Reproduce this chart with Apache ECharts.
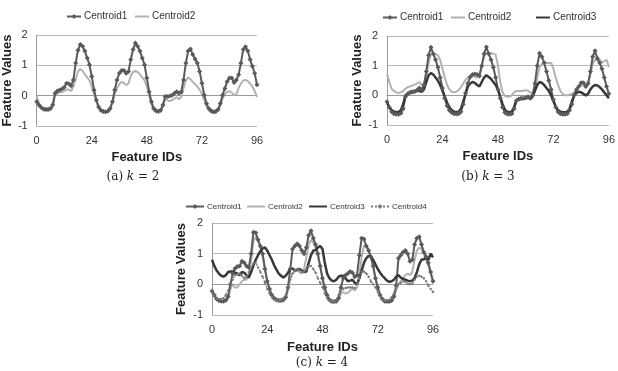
<!DOCTYPE html>
<html><head><meta charset="utf-8">
<script src="https://cdn.jsdelivr.net/npm/echarts@6/dist/echarts.min.js"></script>
<style>html,body{margin:0;padding:0;background:#fff}#c{width:618px;height:371px}</style>
</head><body><div id="c"></div>
<script>
// Feature IDs 0..96, tick labels
var xTicks = [0, 24, 48, 72, 96];
var yTicks = [-1, 0, 1, 2];
var names = ['Centroid1', 'Centroid2', 'Centroid3', 'Centroid4'];

// (a) k = 2
var a_c1 = [-0.2,-0.31,-0.39,-0.44,-0.45,-0.45,-0.42,-0.3,0.08,0.15,
 0.19,0.22,0.28,0.41,0.39,0.33,0.52,1.08,1.5,1.69,
 1.63,1.47,1.24,1.02,0.63,0.19,-0.14,-0.37,-0.48,-0.52,
 -0.53,-0.51,-0.42,-0.2,0.19,0.52,0.74,0.83,0.83,0.74,
 0.8,1.19,1.52,1.74,1.63,1.47,1.24,1.02,0.58,0.13,
 -0.2,-0.42,-0.5,-0.51,-0.48,-0.31,-0.03,-0.03,-0.01,0.01,
 0.08,0.13,0.08,0.13,0.52,1.08,1.47,1.54,1.36,1.21,
 1.08,0.8,0.41,0.02,-0.26,-0.42,-0.5,-0.53,-0.52,-0.46,
 -0.26,0.02,0.24,0.47,0.58,0.58,0.43,0.52,0.69,1.08,
 1.52,1.61,1.47,1.19,0.97,0.74,0.36];
var a_c2 = [-0.02,-0.25,-0.4,-0.48,-0.5,-0.5,-0.47,-0.38,0.0,0.08,
 0.1,0.12,0.15,0.2,0.2,0.15,0.3,0.55,0.8,0.88,
 0.82,0.7,0.6,0.5,0.3,0.05,-0.2,-0.4,-0.5,-0.55,
 -0.56,-0.54,-0.45,-0.25,0.05,0.25,0.38,0.45,0.42,0.35,
 0.4,0.65,0.78,0.82,0.78,0.7,0.6,0.5,0.3,0.0,
 -0.3,-0.48,-0.55,-0.56,-0.53,-0.38,-0.1,-0.15,-0.18,-0.15,
 -0.1,-0.05,-0.12,-0.05,0.25,0.5,0.6,0.55,0.45,0.38,
 0.3,0.2,0.05,-0.15,-0.35,-0.48,-0.55,-0.57,-0.56,-0.5,
 -0.35,-0.1,0.05,0.12,0.15,0.1,0.02,0.05,0.25,0.4,
 0.5,0.52,0.48,0.4,0.3,0.15,-0.05];

// (b) k = 3
var b_c1 = [-0.22,-0.4,-0.55,-0.62,-0.64,-0.64,-0.6,-0.45,-0.05,0.05,
 0.1,0.12,0.13,0.18,0.25,0.2,0.35,0.8,1.35,1.62,
 1.4,1.2,0.95,0.6,0.25,-0.1,-0.35,-0.5,-0.58,-0.62,
 -0.63,-0.62,-0.55,-0.3,0.08,0.4,0.62,0.7,0.72,0.7,
 0.65,1.0,1.4,1.63,1.4,1.2,0.95,0.6,0.2,-0.1,
 -0.4,-0.58,-0.63,-0.64,-0.62,-0.45,-0.18,-0.12,-0.1,-0.1,
 -0.08,-0.05,-0.1,0.0,0.4,1.0,1.42,1.3,1.1,0.8,
 0.5,0.2,-0.15,-0.4,-0.55,-0.62,-0.64,-0.64,-0.62,-0.5,
 -0.3,0.0,0.2,0.3,0.42,0.42,0.3,0.4,0.8,1.3,
 1.5,1.25,1.1,0.9,0.6,0.3,0.05];
var b_c2 = [0.72,0.45,0.22,0.15,0.1,0.08,0.1,0.15,0.22,0.28,
 0.3,0.33,0.36,0.4,0.45,0.35,0.4,0.7,1.1,1.38,
 1.4,1.38,1.35,1.2,0.9,0.6,0.35,0.2,0.12,0.1,
 0.12,0.18,0.28,0.4,0.52,0.6,0.62,0.65,0.62,0.6,
 0.7,1.0,1.3,1.42,1.42,1.42,1.4,1.38,1.0,0.45,
 0.1,-0.02,-0.05,-0.05,0.0,0.1,0.15,0.15,0.15,0.15,
 0.18,0.15,0.1,0.05,0.2,0.6,0.95,1.05,1.1,1.1,
 1.08,1.1,0.9,0.6,0.35,0.15,0.05,0.0,0.0,0.02,
 0.05,0.1,0.2,0.3,0.33,0.35,0.32,0.38,0.7,1.05,
 1.2,1.18,1.2,1.1,1.15,1.2,0.95];
var b_c3 = [-0.25,-0.4,-0.5,-0.55,-0.56,-0.56,-0.5,-0.3,0.0,0.05,
 0.08,0.1,0.12,0.15,0.15,0.12,0.2,0.45,0.68,0.75,
 0.7,0.6,0.5,0.35,0.15,-0.05,-0.25,-0.4,-0.5,-0.55,
 -0.56,-0.55,-0.45,-0.2,0.05,0.3,0.4,0.45,0.42,0.35,
 0.3,0.45,0.6,0.68,0.62,0.55,0.45,0.35,0.2,-0.05,
 -0.3,-0.48,-0.55,-0.57,-0.55,-0.4,-0.15,-0.15,-0.12,-0.12,
 -0.1,-0.08,-0.12,-0.05,0.15,0.35,0.45,0.42,0.35,0.25,
 0.15,0.0,-0.2,-0.38,-0.5,-0.55,-0.57,-0.57,-0.55,-0.45,
 -0.2,0.0,0.08,0.12,0.1,0.05,0.0,0.05,0.2,0.3,
 0.35,0.33,0.28,0.2,0.1,0.0,-0.1];

// (c) k = 4
var c_c1 = [-0.22,-0.35,-0.48,-0.53,-0.55,-0.55,-0.52,-0.4,0.0,0.35,
 0.52,0.58,0.6,0.75,0.7,0.6,0.55,1.0,1.7,1.68,
 1.45,1.25,1.0,0.5,0.1,-0.15,-0.35,-0.45,-0.5,-0.52,
 -0.52,-0.5,-0.42,-0.1,0.5,1.15,1.25,1.32,1.25,1.1,
 1.0,1.2,1.6,1.75,1.5,1.3,1.0,0.6,0.2,-0.1,
 -0.35,-0.5,-0.55,-0.56,-0.55,-0.45,-0.1,0.2,0.3,0.35,
 0.42,0.38,0.25,0.3,0.95,1.5,1.48,1.25,1.1,0.9,
 0.6,0.2,-0.1,-0.35,-0.48,-0.55,-0.56,-0.56,-0.53,-0.4,
 -0.05,0.85,0.95,1.05,1.1,1.0,0.75,0.8,1.3,1.5,
 1.55,1.3,1.05,0.9,0.7,0.4,0.1];
var c_c2 = [-0.25,-0.4,-0.5,-0.55,-0.57,-0.57,-0.55,-0.45,-0.15,0.0,
 -0.1,-0.1,0.0,0.1,0.15,0.15,0.3,0.8,1.4,1.55,
 1.45,1.2,0.9,0.5,0.1,-0.2,-0.4,-0.5,-0.55,-0.57,
 -0.57,-0.55,-0.45,-0.2,0.2,0.35,0.42,0.45,0.4,0.35,
 0.5,0.9,1.3,1.45,1.35,1.2,0.9,0.55,0.15,-0.2,
 -0.4,-0.55,-0.6,-0.6,-0.58,-0.5,-0.3,-0.25,-0.3,-0.28,
 -0.2,-0.15,-0.2,-0.1,0.3,0.9,1.25,1.25,1.15,0.9,
 0.6,0.2,-0.1,-0.35,-0.5,-0.57,-0.58,-0.58,-0.55,-0.45,
 -0.2,0.0,0.1,0.2,0.3,0.35,0.3,0.4,0.8,1.1,
 1.2,1.15,1.0,0.8,0.6,0.35,0.05];
var c_c3 = [0.8,0.6,0.45,0.35,0.28,0.25,0.3,0.4,0.42,0.42,
 0.38,0.35,0.3,0.4,0.38,0.3,0.22,0.4,0.62,0.8,
 0.95,1.08,1.17,1.2,1.1,0.95,0.8,0.62,0.48,0.35,
 0.28,0.22,0.28,0.38,0.5,0.52,0.45,0.48,0.5,0.45,
 0.4,0.42,0.7,0.95,1.1,1.12,1.2,1.25,1.15,0.7,
 0.35,0.2,0.12,0.1,0.15,0.25,0.28,0.28,0.2,0.1,
 0.12,0.15,0.05,0.0,0.2,0.45,0.7,0.85,0.93,0.9,
 0.8,0.65,0.5,0.38,0.28,0.2,0.12,0.08,0.1,0.15,
 0.25,0.3,0.22,0.18,0.15,0.12,0.1,0.12,0.2,0.4,
 0.65,0.8,0.82,0.85,0.8,1.0,0.88];
var c_c4 = [-0.2,-0.35,-0.45,-0.48,-0.48,-0.45,-0.35,-0.2,0.0,0.15,
 0.3,0.32,0.35,0.28,0.2,0.25,0.4,0.55,0.68,0.7,
 0.55,0.4,0.25,0.05,-0.15,-0.3,-0.42,-0.5,-0.52,-0.52,
 -0.5,-0.45,-0.35,-0.1,0.15,0.35,0.45,0.5,0.45,0.4,
 0.42,0.5,0.58,0.6,0.5,0.38,0.2,0.05,-0.1,-0.3,
 -0.45,-0.52,-0.55,-0.55,-0.5,-0.35,-0.2,-0.15,-0.12,-0.1,
 -0.1,-0.1,-0.12,0.0,0.2,0.4,0.42,0.35,0.25,0.1,
 0.0,-0.1,-0.25,-0.4,-0.5,-0.52,-0.52,-0.5,-0.42,-0.3,
 -0.1,0.0,0.05,0.1,0.08,0.02,0.0,0.02,0.15,0.25,
 0.28,0.25,0.2,0.1,-0.05,-0.15,-0.25];

var FONT = 'Liberation Sans';
var styles = {
  Centroid1: {color:'#5a5a5a', width:2, symbol:'diamond', size:5, type:'solid'},
  Centroid2: {color:'#b2b2b2', width:2, symbol:'none', size:0, type:'solid'},
  Centroid3: {color:'#383838', width:2.5, symbol:'none', size:0, type:'solid'},
  Centroid4: {color:'#7a7a7a', width:1.5, symbol:'diamond', size:3, type:'dotted'}
};
function pts(arr){ return arr.map(function(v,i){ return [i, v]; }); }
function mkSeries(name, arr, idx){
  var s = styles[name];
  return {
    type:'line', name:name, xAxisIndex:idx, yAxisIndex:idx, data:pts(arr),
    symbol:s.symbol, symbolSize:s.size, showSymbol:s.symbol!=='none',
    itemStyle:{color:s.color}, lineStyle:{color:s.color, width:s.width, type:s.type},
    smooth:false, animation:false, z: name==='Centroid2'?2:3
  };
}
var grids = [
  {left:33, top:35, width:224, height:91},
  {left:387, top:36, width:223, height:89},
  {left:212, top:223, width:221, height:92}
];
var yGap = [21, 23, 24], xGap = [25, 25, 26];
function xAx(i){
  return {type:'value', gridIndex:i, min:0, max:96, interval:24,
    name:'Feature IDs', nameLocation:'middle', nameGap:xGap[i],
    nameTextStyle:{fontFamily:FONT, fontWeight:'bold', fontSize:13, color:'#222'},
    axisLine:{show:true, lineStyle:{color:'#9a9a9a', width:1}}, axisTick:{show:false},
    axisLabel:{fontFamily:FONT, fontSize:11, color:'#333', margin:9,
      formatter:function(v){ return xTicks.indexOf(v)>=0 ? String(v) : ''; }},
    splitLine:{show:false}};
}
function yAx(i){
  return {type:'value', gridIndex:i, min:-1, max:2, interval:1,
    name:'Feature Values', nameLocation:'middle', nameGap:yGap[i], nameRotate:90,
    nameTextStyle:{fontFamily:FONT, fontWeight:'bold', fontSize:13, color:'#222'},
    axisLine:{show:true, lineStyle:{color:'#9a9a9a', width:1}}, axisTick:{show:false},
    axisLabel:{fontFamily:FONT, fontSize:11, color:'#333', margin:9,
      formatter:function(v){ return yTicks.indexOf(v)>=0 ? String(v) : ''; }},
    splitLine:{show:true, lineStyle:{color:'#b9b9b9', width:1}}};
}
// legend item: top of the (text-height) box
function lg(name, left, top, fs, w){
  var s = styles[name];
  var item = {name:name};
  var h = 6;
  if (s.symbol === 'none') { item.icon = 'rect'; h = 2; }
  return {data:[item], left:left, top:top, padding:0, itemWidth:w, itemHeight:h, itemGap:0,
    textStyle:{fontFamily:FONT, fontSize:fs, color:'#333', padding:[0,0,0,-2]},
    selectedMode:false};
}
function cap(x, y, letter, k){
  return {type:'text', x:x, y:y, style:{
    text:'{n|(' + letter + ') }{i|k}{n| = ' + k + '}', align:'center', verticalAlign:'middle',
    rich:{n:{fontFamily:'DejaVu Serif', fontSize:12, fill:'#222'},
          i:{fontFamily:'DejaVu Serif', fontStyle:'italic', fontSize:12, fill:'#222'}}}};
}
var option = {
  backgroundColor:'#fff', animation:false,
  grid: grids,
  xAxis:[xAx(0), xAx(1), xAx(2)],
  yAxis:[yAx(0), yAx(1), yAx(2)],
  legend:[
    lg('Centroid1', 66, 11.5, 10, 14), lg('Centroid2', 135, 11.5, 10, 14),
    lg('Centroid1', 382, 12.5, 10, 14), lg('Centroid2', 451, 12.5, 10, 14), lg('Centroid3', 536, 12.5, 10, 14),
    lg('Centroid1', 185, 202.5, 8, 18), lg('Centroid2', 247, 202.5, 8, 18),
    lg('Centroid3', 309, 202.5, 8, 18), lg('Centroid4', 370, 202.5, 8, 18)
  ],
  graphic:[cap(133, 177, 'a', 2), cap(488, 177, 'b', 3), cap(322, 363, 'c', 4)],
  series:[
    mkSeries('Centroid2', a_c2, 0), mkSeries('Centroid1', a_c1, 0),
    mkSeries('Centroid2', b_c2, 1), mkSeries('Centroid1', b_c1, 1), mkSeries('Centroid3', b_c3, 1),
    mkSeries('Centroid2', c_c2, 2), mkSeries('Centroid1', c_c1, 2), mkSeries('Centroid3', c_c3, 2), mkSeries('Centroid4', c_c4, 2)
  ]
};
var chart = echarts.init(document.getElementById('c'), null, {renderer:'canvas'});
chart.setOption(option);
</script></body></html>
